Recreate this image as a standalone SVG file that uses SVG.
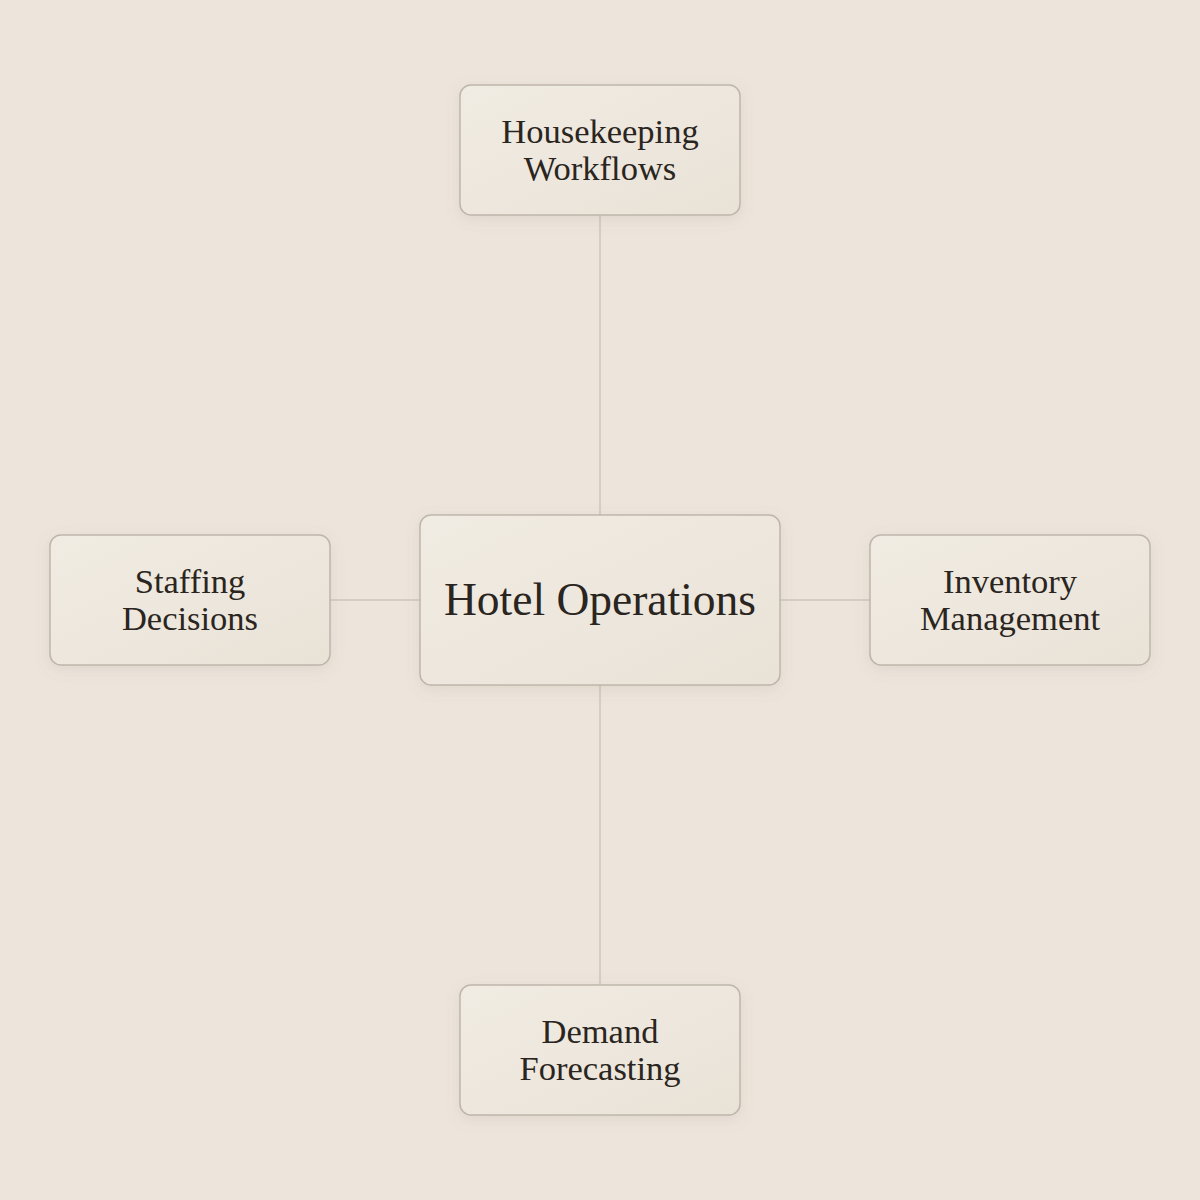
<svg xmlns="http://www.w3.org/2000/svg" width="1200" height="1200" viewBox="0 0 1200 1200">
<defs>
<linearGradient id="nodeFill" x1="0" y1="0" x2="1" y2="1">
<stop offset="0" stop-color="#f1ece3"/>
<stop offset="1" stop-color="#e9e2d7"/>
</linearGradient>
<filter id="shadow" x="-20%" y="-20%" width="140%" height="150%">
<feDropShadow dx="0" dy="4" stdDeviation="7" flood-color="#8a7a66" flood-opacity="0.14"/>
</filter>
<style>
.node rect{fill:url(#nodeFill);stroke:#beb6ab;stroke-width:1.5;filter:url(#shadow)}
.node text{font-family:"Liberation Serif","Times New Roman",serif;fill:#2a2520;text-anchor:middle}
.lbl{font-size:34.5px}
.main{font-size:45.5px}
.conn line{stroke:#cdc6bd;stroke-width:1.5}
</style>
</defs>
<rect width="1200" height="1200" fill="#ede5dc"/>
<g id="connectors" class="conn">
<line x1="600" y1="215" x2="600" y2="515"/>
<line x1="600" y1="685" x2="600" y2="985"/>
<line x1="330" y1="600" x2="420" y2="600"/>
<line x1="780" y1="600" x2="870" y2="600"/>
</g>
<g id="node-center" class="node">
<rect x="420" y="515" width="360" height="170" rx="11"/>
<text class="main" x="600" y="615">Hotel Operations</text>
</g>
<g id="node-housekeeping" class="node">
<rect x="460" y="85" width="280" height="130" rx="11"/>
<text class="lbl" x="600" y="143">Housekeeping</text>
<text class="lbl" x="600" y="180">Workflows</text>
</g>
<g id="node-staffing" class="node">
<rect x="50" y="535" width="280" height="130" rx="11"/>
<text class="lbl" x="190" y="593">Staffing</text>
<text class="lbl" x="190" y="630">Decisions</text>
</g>
<g id="node-inventory" class="node">
<rect x="870" y="535" width="280" height="130" rx="11"/>
<text class="lbl" x="1010" y="593">Inventory</text>
<text class="lbl" x="1010" y="630">Management</text>
</g>
<g id="node-demand" class="node">
<rect x="460" y="985" width="280" height="130" rx="11"/>
<text class="lbl" x="600" y="1043">Demand</text>
<text class="lbl" x="600" y="1080">Forecasting</text>
</g>
</svg>
